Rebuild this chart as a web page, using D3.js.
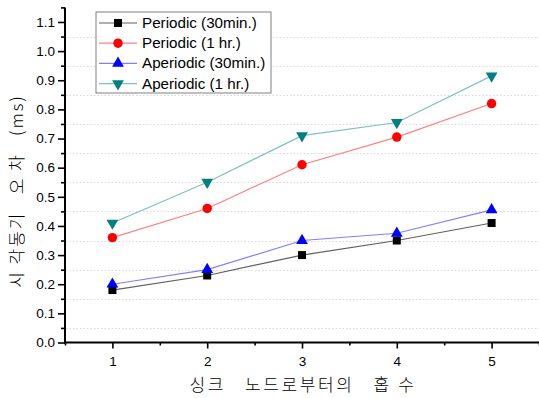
<!DOCTYPE html>
<html><head><meta charset="utf-8">
<script src="https://cdn.jsdelivr.net/npm/d3@7"></script>
<style>body{margin:0;background:#fff}svg{display:block}</style>
</head><body><svg id="c" width="539" height="398"></svg>
<script>
const hops = [1, 2, 3, 4, 5];
const periodic30 = [0.18, 0.23, 0.30, 0.35, 0.41];
const periodic1h = [0.36, 0.46, 0.61, 0.705, 0.82];
const aperiodic30 = [0.20, 0.25, 0.35, 0.375, 0.455];
const aperiodic1h = [0.41, 0.55, 0.71, 0.755, 0.915];
const seriesNames = ["Periodic (30min.)", "Periodic (1 hr.)", "Aperiodic (30min.)", "Aperiodic (1 hr.)"];
const yTicks = [0.0,0.1,0.2,0.3,0.4,0.5,0.6,0.7,0.8,0.9,1.0,1.1];
const yMinor = [0.05,0.15,0.25,0.35,0.45,0.55,0.65,0.75,0.85,0.95,1.05,1.15];
const xMinor = [0.5,1.5,2.5,3.5,4.5,5.5];
const xTitle = "싱크\u00a0\u00a0 노드로부터의\u00a0\u00a0 홉\u00a0수";
const yTitle = "시\u00a0각동기\u00a0\u00a0 오\u00a0차\u00a0\u00a0 (ms)";

const series = [
  {name: seriesNames[0], vals: periodic30, mk: "#000000", ln: "#606060", sym: d3.symbolSquare, size: 64},
  {name: seriesNames[1], vals: periodic1h, mk: "#ff0000", ln: "#ff8080", sym: d3.symbolCircle, size: 70},
  {name: seriesNames[2], vals: aperiodic30, mk: "#0000ff", ln: "#8080ff", sym: d3.symbolTriangle, size: 60},
  {name: seriesNames[3], vals: aperiodic1h, mk: "#008080", ln: "#80c0c0", sym: d3.symbolTriangle, size: 60, rot: 180}
];

const svg = d3.select("#c");
const x = d3.scaleLinear().domain([0.5, 5.5]).range([65, 539]);
const y = d3.scaleLinear().domain([0, 1.15]).range([342.5, 7.4]);
const font = "Arial, 'Liberation Sans', sans-serif";

// grid
svg.append("g").selectAll("line").data(yMinor.slice(0, 11)).join("line")
  .attr("x1", 66).attr("x2", 539).attr("y1", d => Math.round(y(d)) + 0.5).attr("y2", d => Math.round(y(d)) + 0.5)
  .attr("stroke", "#d8d8d8").attr("stroke-dasharray", "1.5,2").attr("stroke-width", 1);

// y axis
const ya = svg.append("g").attr("transform", "translate(65,0)")
  .call(d3.axisLeft(y).tickValues(yTicks).tickFormat(d3.format(".1f")).tickSize(7).tickPadding(3));
ya.append("g").call(d3.axisLeft(y).tickValues(yMinor).tickFormat("").tickSize(4));
svg.selectAll(".domain").remove();

// x axis
const xa = svg.append("g").attr("transform", "translate(0,342.5)")
  .call(d3.axisBottom(x).tickValues(hops).tickFormat(d3.format("d")).tickSize(6).tickPadding(8));
xa.append("g").call(d3.axisBottom(x).tickValues(xMinor).tickFormat("").tickSize(3));
svg.selectAll(".domain").remove();
svg.selectAll(".tick line").attr("stroke", "#000").attr("stroke-width", 1.6);
svg.selectAll(".tick text").attr("font-family", font).attr("font-size", 13.5).attr("fill", "#000");
svg.append("line").attr("x1", 65).attr("x2", 65).attr("y1", y(1.15)).attr("y2", 343.5).attr("stroke", "#000").attr("stroke-width", 2);
svg.append("line").attr("x1", 64).attr("x2", 539).attr("y1", 342.5).attr("y2", 342.5).attr("stroke", "#000").attr("stroke-width", 2);

// lines & markers
const line = d3.line().x((d, i) => x(hops[i])).y(d => y(d));
series.forEach(s => {
  svg.append("path").datum(s.vals).attr("d", line).attr("fill", "none").attr("stroke", s.ln).attr("stroke-width", 1.2);
  svg.append("g").selectAll("path").data(s.vals).join("path")
    .attr("d", d3.symbol().type(s.sym).size(s.size))
    .attr("transform", (d, i) => `translate(${x(hops[i])},${y(d)})` + (s.rot ? ` rotate(${s.rot})` : ""))
    .attr("fill", s.mk);
});

// legend
const lg = svg.append("g");
lg.append("rect").attr("x", 96).attr("y", 12).attr("width", 175).attr("height", 81)
  .attr("fill", "#fff").attr("stroke", "#808080").attr("stroke-width", 1);
series.forEach((s, i) => {
  const ly = 23 + i * 20.2;
  lg.append("line").attr("x1", 99).attr("x2", 137).attr("y1", ly).attr("y2", ly).attr("stroke", s.ln).attr("stroke-width", 1.2);
  lg.append("path").attr("d", d3.symbol().type(s.sym).size(s.size))
    .attr("transform", `translate(118,${ly})` + (s.rot ? ` rotate(${s.rot})` : "")).attr("fill", s.mk);
  lg.append("text").attr("x", 142).attr("y", ly + 5).attr("font-family", font).attr("font-size", 15.2).text(s.name);
});

// axis titles
svg.append("text").attr("x", 303).attr("y", 391).attr("text-anchor", "middle")
  .attr("font-family", "'Noto Sans CJK KR', sans-serif").attr("font-size", 17).attr("font-weight", 300)
  .attr("letter-spacing", 2.6).text(xTitle);
svg.append("text").attr("transform", "translate(23,191) rotate(-90)").attr("text-anchor", "middle")
  .attr("font-family", "'Noto Sans CJK KR', sans-serif").attr("font-size", 17).attr("font-weight", 300)
  .attr("letter-spacing", 2).text(yTitle);
</script></body></html>
